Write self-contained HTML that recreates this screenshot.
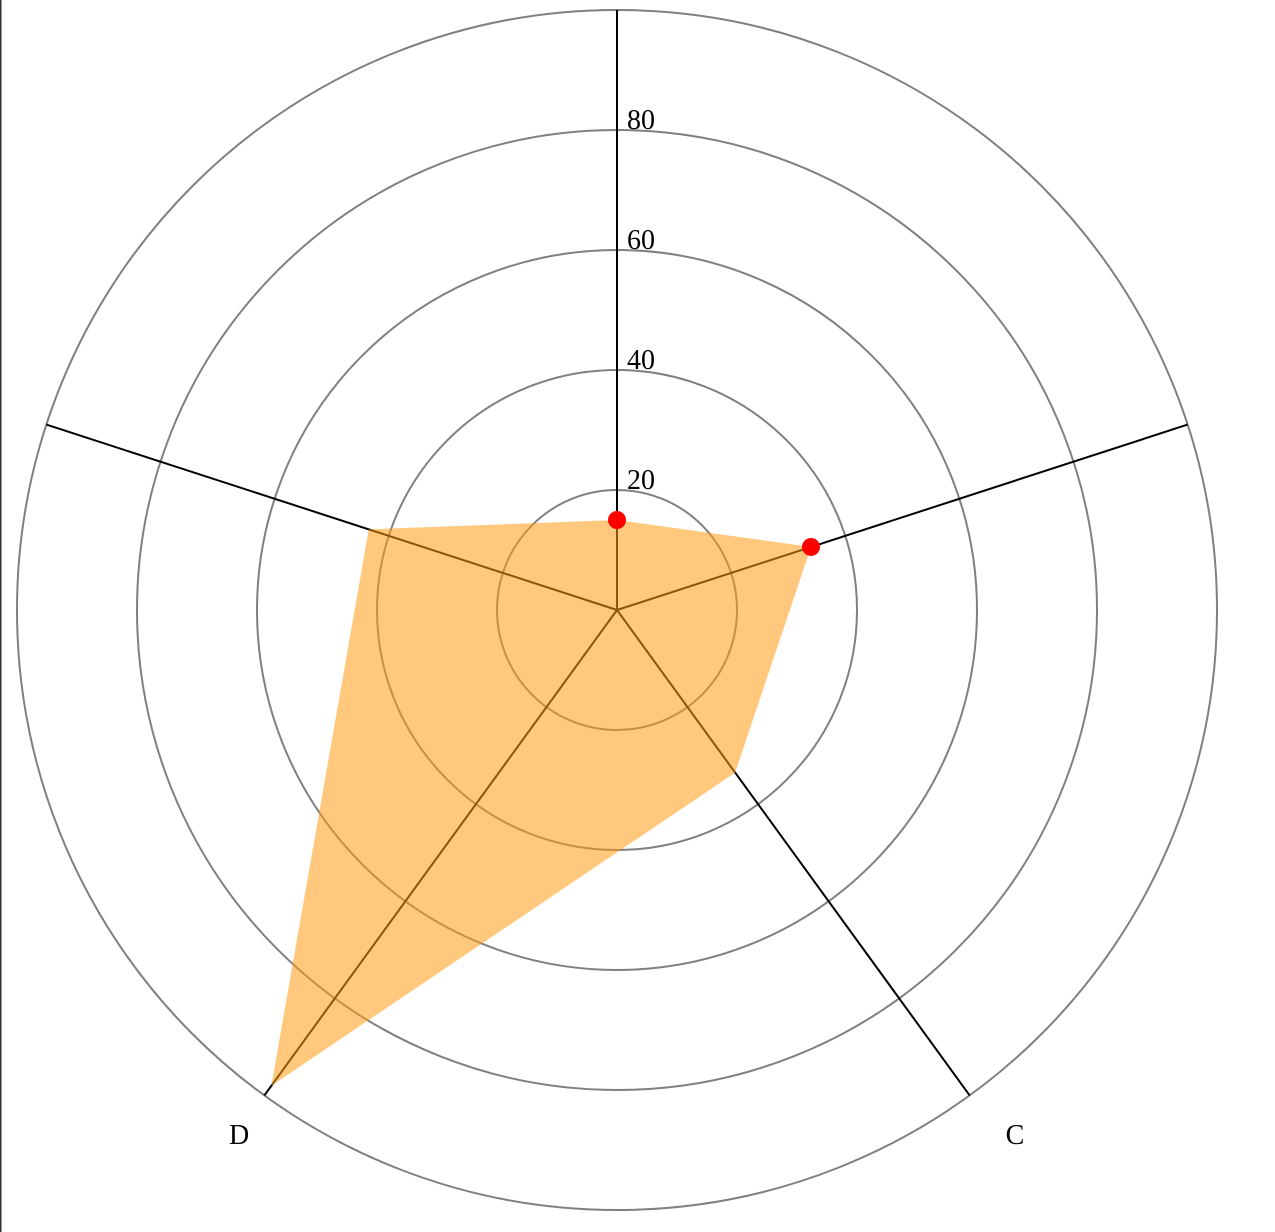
<!DOCTYPE html>
<html><head><meta charset="utf-8"><style>
html,body{margin:0;padding:0;background:#fff;}
svg{display:block;}
text{font-family:"Liberation Serif",serif;font-size:28px;fill:#000;}
</style></head><body>
<svg id="chart" width="1275" height="1232" viewBox="0 0 1275 1232">
<rect x="0" y="0" width="1.5" height="1232" fill="#333"/>
<g id="grid"></g>
<g id="axes"></g>
<g id="series"></g>
<g id="labels"></g>
</svg>
<script>
const categories = ["A", "B", "C", "D", "E"];
const showLabel = [false, false, true, true, false];
const values = [15, 34, 33.5, 98, 43.5];
const showMarker = [true, true, false, false, false];
const ringTicks = [20, 40, 60, 80, 100];
const tickLabels = ["20", "40", "60", "80", ""];

const NS = "http://www.w3.org/2000/svg";
const cx = 617, cy = 610, R = 600, maxV = 100, labelR = 660;
const rScale = v => v / maxV * R;
const ang = i => -Math.PI / 2 + i * 2 * Math.PI / categories.length;
const pt = (i, r) => [cx + r * Math.cos(ang(i)), cy + r * Math.sin(ang(i))];
function mk(tag, attrs, parent) {
  const e = document.createElementNS(NS, tag);
  for (const k in attrs) e.setAttribute(k, attrs[k]);
  parent.appendChild(e);
  return e;
}
const grid = document.getElementById('grid');
const axes = document.getElementById('axes');
const series = document.getElementById('series');
const labels = document.getElementById('labels');

ringTicks.forEach((t, j) => {
  const c = mk('circle', {cx: cx, cy: cy, r: rScale(t), fill: 'none', stroke: '#808080', 'stroke-width': 2}, grid);
  
  
  if (tickLabels[j]) {
    const tx = mk('text', {x: cx + 10, y: cy - rScale(t) - 1}, labels);
    tx.textContent = tickLabels[j];
    
    
  }
});

categories.forEach((c, i) => {
  const [x, y] = pt(i, R);
  const l = mk('line', {x1: cx, y1: cy, x2: x, y2: y, stroke: '#000', 'stroke-width': 2}, axes);
  
  
  if (!showLabel[i]) return;
  const [lx, ly] = pt(i, labelR);
  const t = mk('text', {x: lx + 10, y: ly, 'text-anchor': 'middle'}, labels);
  t.textContent = c;
  
  
});

const pts = values.map((v, i) => pt(i, rScale(v)).join(',')).join(' ');
const poly = mk('polygon', {points: pts, fill: '#ff9a10', 'fill-opacity': 0.55, stroke: 'none'}, series);



values.forEach((v, i) => {
  if (!showMarker[i]) return;
  const [x, y] = pt(i, rScale(v));
  const m = mk('circle', {cx: x, cy: y, r: 9, fill: '#ff0000'}, series);
  
  
});
</script>
</body></html>
